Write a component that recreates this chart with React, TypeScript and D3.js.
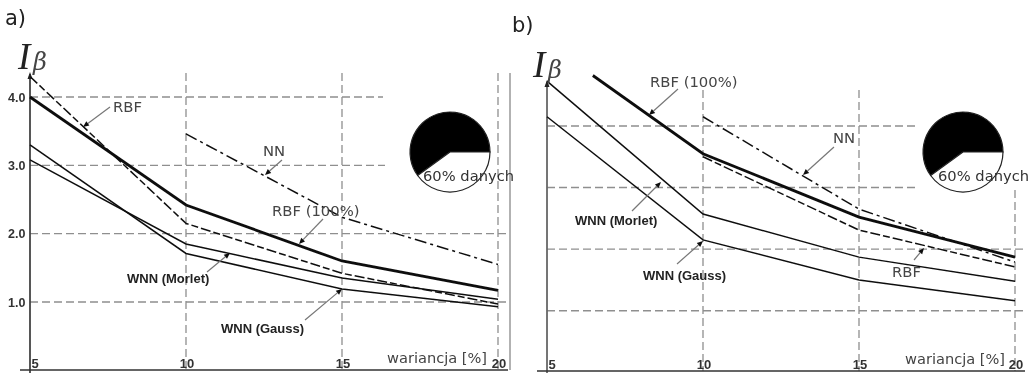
import React from "react";
import * as d3 from "d3";

// ---- data ----
const variance = [5, 10, 15, 20];
const yTicks = [1, 2, 3, 4];
const piePart = [60, 40];

const aRbf100 = [4.0, 2.42, 1.6, 1.17];
const aRbf = [4.3, 2.15, 1.42, 0.97];
const aNn = [3.46, 2.24, 1.55];
const aMorlet = [3.08, 1.85, 1.35, 1.04];
const aGauss = [3.3, 1.71, 1.19, 0.93];

const bRbf100x = [6.47, 10, 15, 20];
const bRbf100 = [4.82, 3.55, 2.52, 1.87];
const bRbf = [3.5, 2.31, 1.71];
const bNn = [4.15, 2.65, 1.79];
const bMorlet = [4.73, 2.57, 1.87, 1.48];
const bGauss = [4.15, 2.15, 1.5, 1.16];

const nnX = [10, 15, 20];
const labelFont = "'DejaVu Sans'";
const boldFont = "'Liberation Sans'";

type Note = { t: string; x: number; y: number; bold?: boolean; from: [number, number]; to: [number, number] };

const notesA: Note[] = [
  { t: "RBF", x: 113, y: 112, from: [110, 107], to: [83, 127] },
  { t: "NN", x: 263, y: 156, from: [282, 160], to: [265, 175] },
  { t: "RBF (100%)", x: 272, y: 216, from: [323, 219], to: [299, 244] },
  { t: "WNN (Morlet)", x: 127, y: 283, bold: true, from: [207, 272], to: [230, 253] },
  { t: "WNN (Gauss)", x: 221, y: 333, bold: true, from: [305, 320], to: [342, 289] },
];
const notesB: Note[] = [
  { t: "RBF (100%)", x: 650, y: 87, from: [678, 89], to: [649, 115] },
  { t: "NN", x: 833, y: 143, from: [834, 147], to: [803, 175] },
  { t: "WNN (Morlet)", x: 575, y: 225, bold: true, from: [632, 211], to: [661, 182] },
  { t: "WNN (Gauss)", x: 643, y: 280, bold: true, from: [677, 264], to: [703, 241] },
  { t: "RBF", x: 892, y: 277, from: [914, 260], to: [924, 248] },
];

type Series = { xs: number[]; ys: number[]; width: number; dash?: string };

type PanelProps = {
  letter: string; letterX: number; letterY: number;
  x0: number; y1: number; y4: number; base: number;
  series: Series[]; notes: Note[];
  hEnds: number[]; vTops: number[];
  tickLabels: boolean; rightAxis: boolean;
  pieX: number; captionX: number; wariancjaX: number;
  symbolX: number; symbolY: number;
};

function Arrow({ n }: { n: Note }) {
  const [x1, y1] = n.from;
  const [x2, y2] = n.to;
  const a = Math.atan2(y2 - y1, x2 - x1);
  const len = 6, w = 2.6;
  const bx = x2 - len * Math.cos(a), by = y2 - len * Math.sin(a);
  const nx = -Math.sin(a) * w, ny = Math.cos(a) * w;
  return (
    <g>
      <line x1={x1} y1={y1} x2={bx} y2={by} stroke="#777" strokeWidth={1.2} />
      <path d={`M${x2},${y2}L${bx + nx},${by + ny}L${bx - nx},${by - ny}Z`} fill="#111" />
    </g>
  );
}

function Panel(p: PanelProps) {
  const x = d3.scaleLinear().domain([5, 20]).range([p.x0, p.x0 + 468]);
  const y = d3.scaleLinear().domain([1, 4]).range([p.y1, p.y4]);
  const line = d3.line<[number, number]>().x((d) => x(d[0])).y((d) => y(d[1]));
  const arcs = d3.pie<number>().sort(null).startAngle((-126 * Math.PI) / 180).endAngle((234 * Math.PI) / 180)(piePart);
  const arc = d3.arc<d3.PieArcDatum<number>>().innerRadius(0).outerRadius(40);
  return (
    <g>
      <text x={p.letterX} y={p.letterY} fontFamily={labelFont} fontSize={21} fill="#222">{p.letter}</text>
      {/* grid */}
      {yTicks.map((t, i) => (
        <line key={t} x1={p.x0} x2={p.hEnds[i]} y1={y(t)} y2={y(t)} stroke="#8f8f8f" strokeWidth={1.4} strokeDasharray="8 4" />
      ))}
      {variance.slice(1).map((v, i) => (
        <line key={v} x1={x(v)} x2={x(v)} y1={p.vTops[i]} y2={p.base} stroke="#8f8f8f" strokeWidth={1.3} strokeDasharray="8 4" />
      ))}
      {/* axes */}
      <line x1={p.x0} x2={p.x0} y1={p.symbolY + 5} y2={p.base + 3} stroke={p.rightAxis ? "#444" : "#666"} strokeWidth={1.8} />
      <line x1={p.x0 - 10} x2={p.x0 + 478} y1={p.base} y2={p.base} stroke="#333" strokeWidth={1.6} />
      <path d={`M${p.x0},${p.symbolY + 3}l-2.5,7h5Z`} fill="#222" />
      {p.rightAxis && <line x1={510} x2={510} y1={73} y2={p.base} stroke="#aaa" strokeWidth={1.8} />}
      {/* series */}
      {p.series.map((s, i) => (
        <path key={i} d={line(s.xs.map((v, j) => [v, s.ys[j]] as [number, number])) || ""} fill="none"
          stroke="#111" strokeWidth={s.width} strokeDasharray={s.dash} />
      ))}
      {/* tick labels */}
      {p.tickLabels && yTicks.map((t) => (
        <text key={t} x={8} y={y(t) + 4.5} fontFamily={boldFont} fontWeight="bold" fontSize={12.5} fill="#333">{t.toFixed(1)}</text>
      ))}
      {variance.map((v) => (
        <text key={v} x={x(v) + (v === 5 ? 5 : 1)} y={p.base - 2} textAnchor="middle" fontFamily={boldFont} fontWeight="bold" fontSize={13} fill="#333">{v}</text>
      ))}
      <text x={p.wariancjaX} y={p.base - 7} fontFamily={labelFont} fontSize={14.6} fill="#444">wariancja [%]</text>
      {/* symbol */}
      <text x={p.symbolX} y={p.symbolY} fontFamily="'Liberation Serif'" fontStyle="italic" fontSize={37} fill="#222">I</text>
      <text x={p.symbolX + 15} y={p.symbolY + 1} fontFamily="'DejaVu Serif'" fontStyle="italic" fontSize={24} fill="#444">β</text>
      {/* pie */}
      <g transform={`translate(${p.pieX},152)`}>
        {arcs.map((a, i) => (
          <path key={i} d={arc(a) || ""} fill={i === 0 ? "#000" : "#fff"} stroke="#222" strokeWidth={1.2} />
        ))}
      </g>
      <text x={p.captionX} y={181} fontFamily={labelFont} fontSize={14.7} fill="#333">60% danych</text>
      {/* annotations */}
      {p.notes.map((n) => (
        <g key={n.t}>
          <Arrow n={n} />
          <text x={n.x} y={n.y} fontFamily={n.bold ? boldFont : labelFont} fontWeight={n.bold ? "bold" : "normal"}
            fontSize={n.bold ? 13 : 14.8} fill={n.bold ? "#222" : "#444"}>{n.t}</text>
        </g>
      ))}
    </g>
  );
}

const dashed = "10 3 7 3";
const dashDot = "12 4 3 4";

export default function App() {
  return (
    <svg width={1036} height={373} viewBox="0 0 1036 373" style={{ position: "absolute", left: 0, top: 0, display: "block", background: "#fff" }}>
      <defs>
        <filter id="soft" x="0" y="0" width="100%" height="100%"><feGaussianBlur stdDeviation="0.4" /></filter>
      </defs>
      <g filter="url(#soft)">
        <Panel letter="a)" letterX={5} letterY={25} x0={30} y1={302} y4={97} base={370}
          series={[
            { xs: variance, ys: aRbf100, width: 2.8 },
            { xs: variance, ys: aRbf, width: 1.5, dash: dashed },
            { xs: nnX, ys: aNn, width: 1.5, dash: dashDot },
            { xs: variance, ys: aMorlet, width: 1.5 },
            { xs: variance, ys: aGauss, width: 1.5 },
          ]}
          notes={notesA} hEnds={[508, 508, 385, 383]} vTops={[73, 73, 73]} tickLabels rightAxis
          pieX={450} captionX={423} wariancjaX={387} symbolX={18} symbolY={69} />
        <Panel letter="b)" letterX={512} letterY={32} x0={547} y1={310.7} y4={126} base={371}
          series={[
            { xs: bRbf100x, ys: bRbf100, width: 2.8 },
            { xs: nnX, ys: bRbf, width: 1.5, dash: dashed },
            { xs: nnX, ys: bNn, width: 1.5, dash: dashDot },
            { xs: variance, ys: bMorlet, width: 1.5 },
            { xs: variance, ys: bGauss, width: 1.5 },
          ]}
          notes={notesB} hEnds={[1026, 1026, 916, 916]} vTops={[90, 90, 190]} tickLabels={false} rightAxis={false}
          pieX={963} captionX={938} wariancjaX={905} symbolX={533} symbolY={77} />
      </g>
    </svg>
  );
}
